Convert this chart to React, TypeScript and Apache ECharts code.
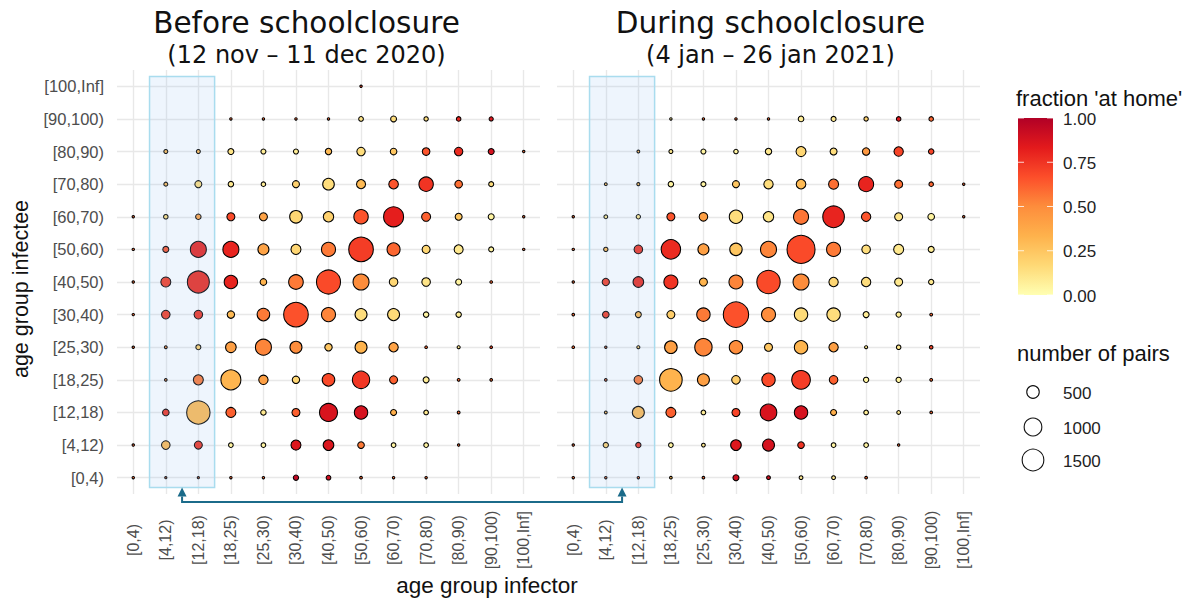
import React, { useEffect, useRef } from 'react';
import * as echarts from 'echarts';

// ---------- data ----------
const ageGroups = ['[0,4)', '[4,12)', '[12,18)', '[18,25)', '[25,30)', '[30,40)', '[40,50)', '[50,60)', '[60,70)', '[70,80)', '[80,90)', '[90,100)', '[100,Inf]'];

// rows: infectee from top ([100,Inf]) to bottom ([0,4)); columns: infector in ageGroups order
const beforeCounts = [
  [0, 0, 0, 0, 0, 0, 0, 18, 0, 0, 0, 0, 0],
  [0, 0, 0, 18, 18, 18, 18, 70, 110, 60, 65, 55, 0],
  [0, 50, 50, 115, 80, 80, 130, 225, 140, 185, 225, 115, 18],
  [0, 50, 155, 95, 65, 155, 430, 260, 295, 660, 185, 80, 0],
  [18, 65, 95, 205, 205, 505, 345, 660, 1275, 260, 155, 115, 18],
  [18, 115, 815, 815, 385, 320, 625, 1930, 540, 205, 260, 80, 18],
  [18, 320, 1540, 570, 140, 680, 1840, 815, 235, 235, 115, 22, 0],
  [18, 235, 235, 175, 505, 1930, 625, 460, 460, 95, 95, 0, 0],
  [18, 25, 80, 360, 815, 460, 175, 460, 280, 22, 30, 22, 0],
  [0, 22, 320, 1275, 280, 175, 505, 960, 205, 115, 25, 22, 0],
  [0, 140, 1740, 320, 95, 205, 1030, 570, 115, 70, 25, 0, 0],
  [18, 235, 205, 70, 70, 320, 360, 140, 70, 70, 18, 0, 0],
  [18, 15, 15, 18, 18, 90, 70, 22, 18, 18, 0, 0, 0],
];
const beforeFrac = [
  [0, 0, 0, 0, 0, 0, 0, 0.7, 0, 0, 0, 0, 0],
  [0, 0, 0, 0.6, 0.6, 0.6, 0.6, 0.12, 0.15, 0.15, 0.8, 0.85, 0],
  [0, 0.3, 0.3, 0.12, 0.08, 0.08, 0.3, 0.15, 0.25, 0.65, 0.78, 0.88, 0.6],
  [0, 0.3, 0.15, 0.1, 0.08, 0.2, 0.15, 0.3, 0.65, 0.75, 0.58, 0.15, 0],
  [0.6, 0.15, 0.4, 0.68, 0.4, 0.18, 0.2, 0.65, 0.82, 0.62, 0.25, 0.05, 0.6],
  [0.6, 0.65, 0.8, 0.8, 0.4, 0.18, 0.55, 0.72, 0.6, 0.18, 0.1, 0.05, 0.6],
  [0.6, 0.72, 0.78, 0.8, 0.33, 0.55, 0.68, 0.5, 0.18, 0.12, 0.05, 0.6, 0],
  [0.6, 0.72, 0.75, 0.3, 0.55, 0.66, 0.52, 0.15, 0.16, 0.05, 0.08, 0, 0],
  [0.6, 0.5, 0.2, 0.42, 0.52, 0.5, 0.25, 0.33, 0.4, 0.6, 0.1, 0.7, 0],
  [0, 0.5, 0.55, 0.32, 0.42, 0.18, 0.68, 0.74, 0.62, 0.08, 0.6, 0.6, 0],
  [0, 0.75, 0.3, 0.62, 0.1, 0.62, 0.87, 0.88, 0.35, 0.1, 0.6, 0, 0],
  [0.6, 0.3, 0.75, 0.05, 0.05, 0.85, 0.86, 0.55, 0.05, 0.05, 0.6, 0, 0],
  [0.6, 0.6, 0.6, 0.6, 0.6, 0.95, 0.9, 0.6, 0.6, 0.6, 0, 0, 0],
];
const duringCounts = [
  [0, 0, 0, 0, 0, 0, 0, 0, 0, 0, 0, 0, 0],
  [0, 0, 0, 18, 18, 18, 18, 100, 80, 60, 65, 65, 0],
  [0, 0, 25, 50, 80, 65, 130, 320, 155, 175, 280, 95, 0],
  [0, 25, 30, 95, 80, 155, 280, 295, 320, 720, 205, 65, 18],
  [18, 45, 60, 205, 235, 570, 345, 720, 1490, 280, 205, 140, 18],
  [18, 60, 235, 1200, 385, 490, 815, 2500, 625, 235, 320, 115, 0],
  [18, 170, 360, 625, 205, 625, 1740, 815, 280, 280, 205, 90, 0],
  [22, 140, 115, 205, 570, 2050, 625, 570, 570, 115, 90, 25, 0],
  [22, 18, 30, 505, 960, 570, 205, 570, 280, 30, 65, 40, 0],
  [0, 22, 235, 1630, 460, 235, 570, 1110, 235, 90, 90, 25, 0],
  [0, 25, 460, 320, 70, 205, 880, 570, 115, 70, 45, 22, 0],
  [18, 90, 90, 70, 45, 360, 460, 140, 70, 70, 18, 0, 0],
  [18, 18, 18, 22, 22, 115, 45, 45, 45, 22, 0, 0, 0],
];
const duringFrac = [
  [0, 0, 0, 0, 0, 0, 0, 0, 0, 0, 0, 0, 0],
  [0, 0, 0, 0.1, 0.6, 0.6, 0.6, 0.08, 0.1, 0.2, 0.85, 0.6, 0],
  [0, 0, 0.3, 0.1, 0.05, 0.05, 0.1, 0.18, 0.15, 0.45, 0.7, 0.7, 0],
  [0, 0.3, 0.3, 0.05, 0.05, 0.25, 0.15, 0.3, 0.58, 0.8, 0.58, 0.6, 0.6],
  [0.6, 0.1, 0.1, 0.65, 0.42, 0.15, 0.12, 0.56, 0.8, 0.65, 0.12, 0.05, 0.6],
  [0.6, 0.3, 0.75, 0.78, 0.42, 0.25, 0.52, 0.68, 0.55, 0.15, 0.1, 0.08, 0],
  [0.6, 0.72, 0.78, 0.75, 0.33, 0.52, 0.68, 0.5, 0.18, 0.15, 0.1, 0.1, 0],
  [0.6, 0.72, 0.3, 0.22, 0.55, 0.66, 0.5, 0.16, 0.15, 0.08, 0.08, 0.6, 0],
  [0.6, 0.6, 0.2, 0.42, 0.52, 0.5, 0.25, 0.32, 0.42, 0.1, 0.1, 0.7, 0],
  [0, 0.6, 0.55, 0.33, 0.42, 0.22, 0.68, 0.72, 0.62, 0.05, 0.05, 0.6, 0],
  [0, 0.3, 0.3, 0.62, 0.08, 0.7, 0.87, 0.88, 0.35, 0.08, 0.1, 0.6, 0],
  [0.6, 0.2, 0.75, 0.05, 0.1, 0.85, 0.88, 0.75, 0.05, 0.05, 0.6, 0, 0],
  [0.6, 0.6, 0.6, 0.3, 0.6, 0.9, 0.9, 0.1, 0.1, 0.6, 0, 0, 0],
];

const panelTitles = ['Before schoolclosure', 'During schoolclosure'];
const panelSubtitles = ['(12 nov \u2013 11 dec 2020)', '(4 jan \u2013 26 jan 2021)'];
const fracTicks = [0, 0.25, 0.5, 0.75, 1];
const fracTickLabels = ['0.00', '0.25', '0.50', '0.75', '1.00'];
const sizeBreaks = [500, 1000, 1500];
const sizeBreakLabels = ['500', '1000', '1500'];
const palette = ['#FFFFB2', '#FED976', '#FEB24C', '#FD8D3C', '#FC4E2A', '#E31A1C', '#B10026'];

// ---------- helpers ----------
const SIZE_K = 0.56;
const diam = (n: number) => SIZE_K * Math.sqrt(n);
const SANS = '"Liberation Sans", Arial, sans-serif';
const TITLE_FONT = '"DejaVu Sans", Verdana, sans-serif';

function toPoints(counts: number[][], fracs: number[][]) {
  const pts: any[] = [];
  const last = ageGroups.length - 1;
  counts.forEach((row, r) =>
    row.forEach((n, c) => {
      if (n > 0) pts.push([c, last - r, n, fracs[r][c]]);
    })
  );
  return pts;
}

const GRID_TOP = 70;
const GRID_H = 424;
const GRID_W = 423;
const GRID_LEFTS = [117, 557];
const GRID_LINE = { color: '#e8e8e8', width: 1.4 };

function xAxisFor(gi: number) {
  return {
    type: 'category',
    gridIndex: gi,
    data: ageGroups,
    boundaryGap: true,
    axisLine: { show: false },
    axisTick: { show: false },
    axisLabel: {
      interval: 0,
      rotate: 90,
      align: 'center',
      verticalAlign: 'middle',
      margin: 46,
      color: '#4d4d4d',
      fontSize: 16,
      fontFamily: SANS,
    },
    splitLine: { show: true, alignWithLabel: true, lineStyle: GRID_LINE },
  };
}
function yAxisFor(gi: number) {
  return {
    type: 'category',
    gridIndex: gi,
    data: ageGroups,
    boundaryGap: true,
    axisLine: { show: false },
    axisTick: { show: false },
    axisLabel: {
      show: gi === 0,
      interval: 0,
      margin: 13,
      color: '#4d4d4d',
      fontSize: 16.5,
      fontFamily: SANS,
    },
    splitLine: { show: true, alignWithLabel: true, lineStyle: GRID_LINE },
  };
}
function seriesFor(gi: number, data: any[]) {
  return {
    type: 'scatter',
    xAxisIndex: gi,
    yAxisIndex: gi,
    data,
    symbol: 'circle',
    symbolSize: (v: any) => diam(v[2]),
    itemStyle: { borderColor: '#000000', borderWidth: 1.05, opacity: 1 },
    emphasis: { disabled: true },
    z: 3,
  };
}

export default function App() {
  const ref = useRef<HTMLDivElement>(null);
  useEffect(() => {
    document.body.style.margin = '0';
    const chart = echarts.init(ref.current!, null, { renderer: 'svg' });
    chart.setOption({
      animation: false,
      backgroundColor: '#ffffff',
      grid: GRID_LEFTS.map((left) => ({ left, top: GRID_TOP, width: GRID_W, height: GRID_H, containLabel: false })),
      xAxis: [xAxisFor(0), xAxisFor(1)],
      yAxis: [yAxisFor(0), yAxisFor(1)],
      visualMap: {
        type: 'continuous',
        show: false,
        min: 0,
        max: 1,
        dimension: 3,
        seriesIndex: [0, 1],
        inRange: { color: palette },
      },
      series: [seriesFor(0, toPoints(beforeCounts, beforeFrac)), seriesFor(1, toPoints(duringCounts, duringFrac))],
    });

    const px = (gi: number, x: number, y: number) => chart.convertToPixel({ gridIndex: gi } as any, [x, y]) as number[];
    const band = px(0, 1, 0)[0] - px(0, 0, 0)[0];
    const rowBand = px(0, 0, 0)[1] - px(0, 0, 1)[1];
    const last = ageGroups.length - 1;
    const arrowColor = '#1b6b8a';
    const elements: any[] = [];
    const centers: number[] = [];
    let rectBottom = 0;
    let gridBottom = 0;
    [0, 1].forEach((gi) => {
      const xa = px(gi, 1, last);
      const xb = px(gi, 2, last);
      const yb = px(gi, 1, 0);
      const x0 = xa[0] - band / 2;
      const x1 = xb[0] + band / 2;
      const y0 = xa[1] - 0.3 * rowBand;
      const y1 = yb[1] + 0.3 * rowBand;
      rectBottom = y1;
      gridBottom = yb[1] + rowBand / 2;
      centers.push((x0 + x1) / 2);
      elements.push({
        type: 'rect',
        z: 100,
        shape: { x: x0, y: y0, width: x1 - x0, height: y1 - y0 },
        style: { fill: 'rgba(150,195,240,0.16)', stroke: '#a9dcee', lineWidth: 1.5 },
      });
      const gridCenter = (px(gi, 0, 0)[0] + px(gi, last, 0)[0]) / 2;
      const titleX = gi === 0 ? gridCenter - 22 : gridCenter + 2;
      elements.push({
        type: 'text', x: titleX, y: 23,
        style: { text: panelTitles[gi], fontSize: 29.5, fontFamily: TITLE_FONT, fill: '#111', align: 'center', verticalAlign: 'middle' },
      });
      elements.push({
        type: 'text', x: titleX, y: 55,
        style: { text: panelSubtitles[gi], fontSize: 24, fontFamily: TITLE_FONT, fill: '#111', align: 'center', verticalAlign: 'middle' },
      });
    });
    // arrow linking the two highlighted column pairs
    const yLine = gridBottom + 8;
    const headH = 9;
    elements.push({
      type: 'polyline', z: 101,
      shape: { points: [[centers[0], rectBottom + headH], [centers[0], yLine], [centers[1], yLine], [centers[1], rectBottom + headH]] },
      style: { stroke: arrowColor, lineWidth: 2, fill: null },
    });
    centers.forEach((cx) => {
      elements.push({
        type: 'polygon', z: 101,
        shape: { points: [[cx, rectBottom], [cx - 4.5, rectBottom + headH], [cx + 4.5, rectBottom + headH]] },
        style: { fill: arrowColor },
      });
    });
    // axis titles
    elements.push({
      type: 'text', x: 21, y: 289, rotation: Math.PI / 2,
      style: { text: 'age group infectee', fontSize: 21.5, fontFamily: SANS, fill: '#111', align: 'center', verticalAlign: 'middle' },
    });
    elements.push({
      type: 'text', x: 487, y: 585,
      style: { text: 'age group infector', fontSize: 22.5, fontFamily: SANS, fill: '#111', align: 'center', verticalAlign: 'middle' },
    });
    // colour legend
    const barX = 1018, barY = 118, barW = 35, barH = 177;
    elements.push({
      type: 'text', x: 1016, y: 98,
      style: { text: "fraction 'at home'", fontSize: 22, fontFamily: SANS, fill: '#111', align: 'left', verticalAlign: 'middle' },
    });
    elements.push({
      type: 'rect',
      shape: { x: barX, y: barY, width: barW, height: barH },
      style: {
        fill: new echarts.graphic.LinearGradient(0, 1, 0, 0, palette.map((c, i) => ({ offset: i / (palette.length - 1), color: c }))),
      },
    });
    fracTicks.forEach((v, i) => {
      const ty = barY + barH - v * barH;
      elements.push({ type: 'line', shape: { x1: barX, y1: ty, x2: barX + 6, y2: ty }, style: { stroke: 'rgba(255,255,255,0.8)', lineWidth: 1 } });
      elements.push({ type: 'line', shape: { x1: barX + barW - 6, y1: ty, x2: barX + barW, y2: ty }, style: { stroke: 'rgba(255,255,255,0.8)', lineWidth: 1 } });
      elements.push({
        type: 'text', x: 1063, y: ty + 1,
        style: { text: fracTickLabels[i], fontSize: 17, fontFamily: SANS, fill: '#222', align: 'left', verticalAlign: 'middle' },
      });
    });
    // size legend
    elements.push({
      type: 'text', x: 1017, y: 353,
      style: { text: 'number of pairs', fontSize: 22, fontFamily: SANS, fill: '#111', align: 'left', verticalAlign: 'middle' },
    });
    const sizeYs = [392, 427, 460];
    sizeBreaks.forEach((n, i) => {
      elements.push({
        type: 'circle',
        shape: { cx: 1033, cy: sizeYs[i], r: diam(n) / 2 },
        style: { fill: '#fff', stroke: '#111', lineWidth: 1.1 },
      });
      elements.push({
        type: 'text', x: 1063, y: sizeYs[i] + 1,
        style: { text: sizeBreakLabels[i], fontSize: 17, fontFamily: SANS, fill: '#222', align: 'left', verticalAlign: 'middle' },
      });
    });
    chart.setOption({ graphic: { elements } });
    return () => chart.dispose();
  }, []);
  return <div ref={ref} style={{ width: 1189, height: 603 }} />;
}
